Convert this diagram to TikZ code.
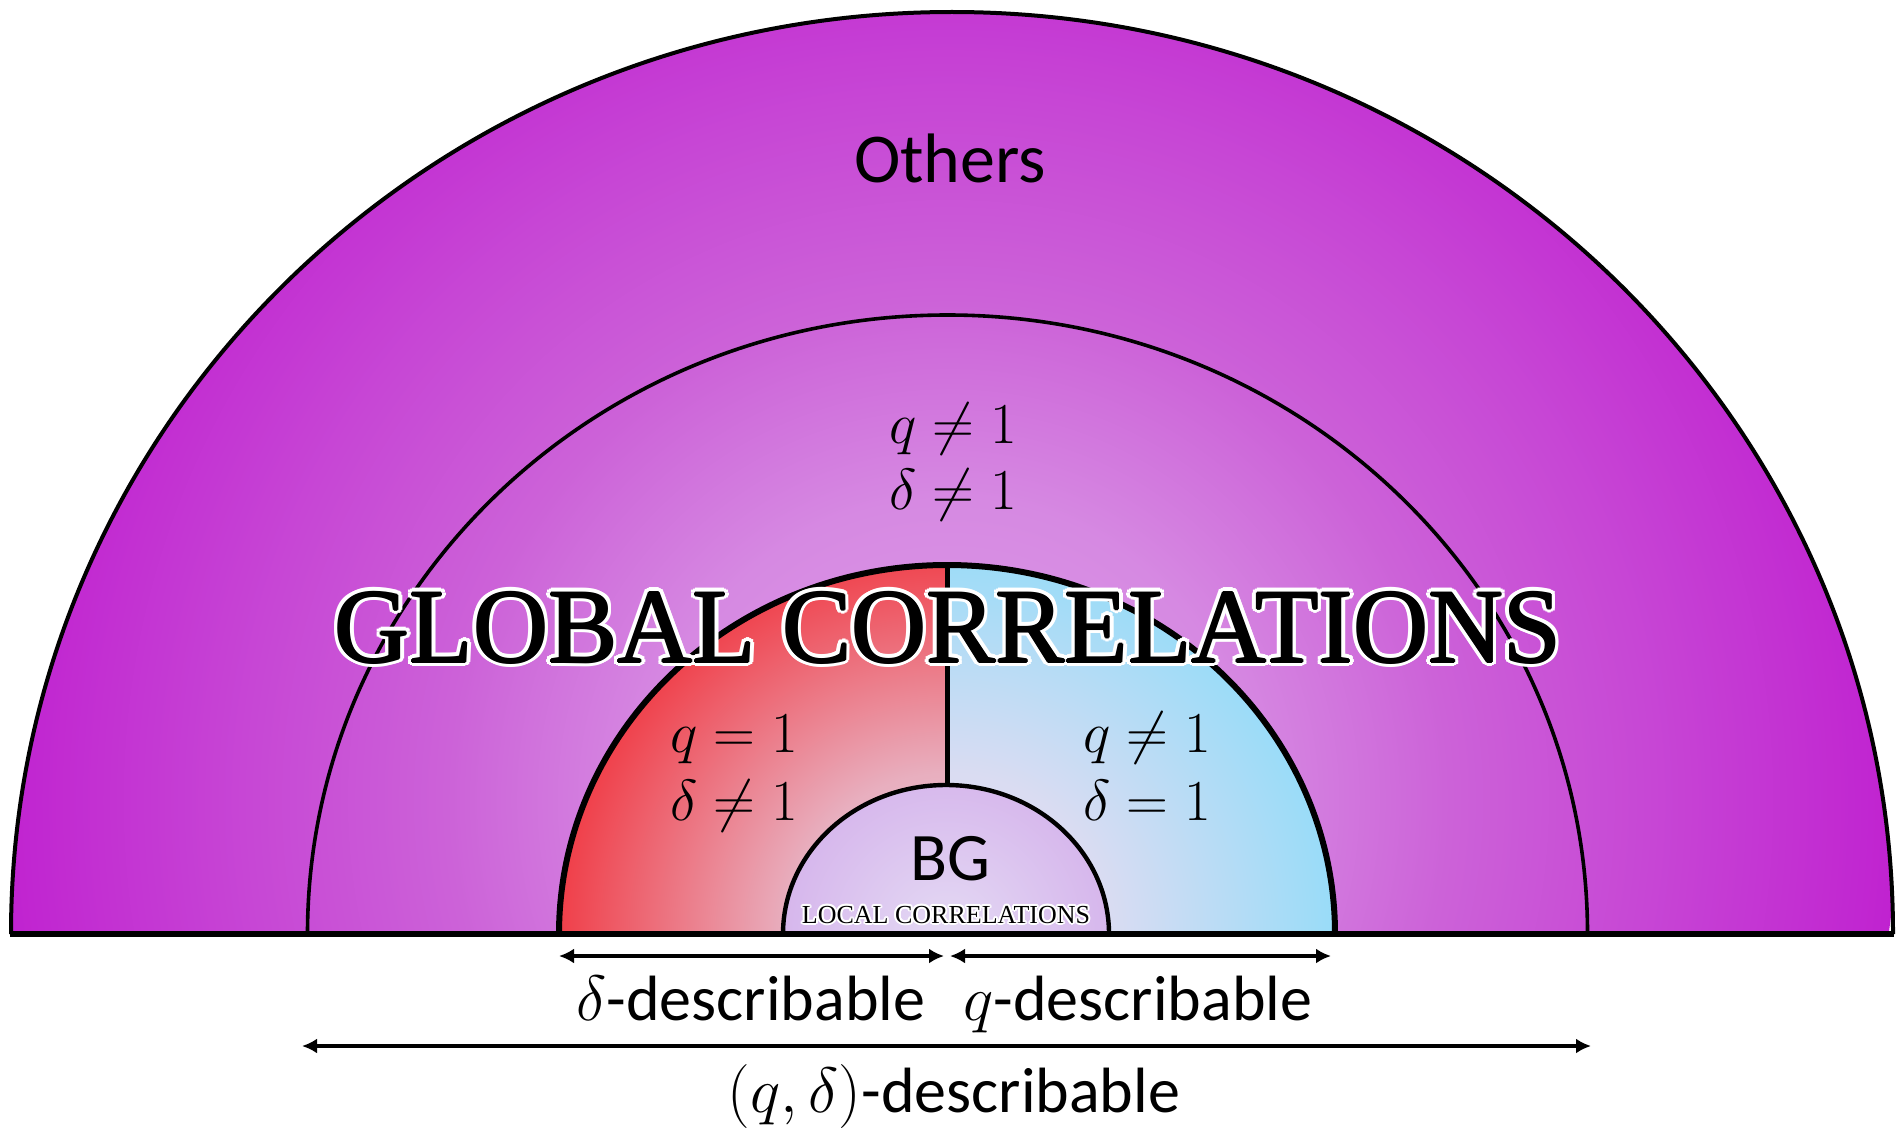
\RequirePackage{fix-cm}
\documentclass[tikz,border=0pt]{standalone}
\usepackage[no-math]{fontspec}
\setmainfont{Carlito}
\newfontfamily\tnr{Liberation Serif}
\usetikzlibrary{arrows.meta,calc}
\definecolor{pA}{HTML}{DDA0E8}
\definecolor{pB}{HTML}{D689E2}
\definecolor{pC}{HTML}{CC62D8}
\definecolor{pD}{HTML}{C747D5}
\definecolor{pE}{HTML}{C022D0}
\definecolor{rA}{HTML}{E8C4D4}
\definecolor{rB}{HTML}{E8AFBF}
\definecolor{rC}{HTML}{F03E48}
\definecolor{bA}{HTML}{E0DEF4}
\definecolor{bB}{HTML}{DADCF2}
\definecolor{bC}{HTML}{98DCF8}
\definecolor{gA}{HTML}{E4DAF4}
\definecolor{gB}{HTML}{D6B6EC}
\pgfdeclareradialshading{purpshade}{\pgfpoint{0bp}{0bp}}{color(0bp)=(pA); color(7.9bp)=(pB); color(13.2bp)=(pC); color(18.4bp)=(pD); color(25bp)=(pE); color(50bp)=(pE)}
\pgfdeclareradialshading{redshade}{\pgfpoint{0bp}{0bp}}{color(0bp)=(rA); color(10.3bp)=(rB); color(25bp)=(rC); color(50bp)=(rC)}
\pgfdeclareradialshading{blueshade}{\pgfpoint{0bp}{0bp}}{color(0bp)=(bA); color(10.3bp)=(bB); color(25bp)=(bC); color(50bp)=(bC)}
\pgfdeclareradialshading{bgshade}{\pgfpoint{0bp}{0bp}}{color(0bp)=(gA); color(25bp)=(gB); color(50bp)=(gB)}
\begin{document}
\begin{tikzpicture}[x=0.5pt,y=-0.5pt,
  lbl/.style={font=\fontsize{32}{38}\selectfont, anchor=base, inner sep=0pt},
  mathlbl/.style={font=\fontsize{29}{34}\selectfont, anchor=base, inner sep=0pt},
  bigtitle/.style={font=\tnr\fontsize{53}{60}\selectfont, anchor=base, inner sep=0pt, xscale=0.98},
  smalltitle/.style={font=\tnr\fontsize{13}{15}\selectfont, anchor=base, inner sep=0pt},
  arr/.style={line width=2pt, {Latex[length=7.5pt,width=7.5pt]}-{Latex[length=7.5pt,width=7.5pt]}},
]
\useasboundingbox (0,0) rectangle (1899,1129);
% background purple
\begin{scope}
  \clip (11,934) arc[start angle=180,end angle=360,x radius=941,y radius=922] -- cycle;
  \shade[shading=purpshade] (948,800) circle (950);
\end{scope}
% red half
\begin{scope}
  \clip (947,934) -- (559,934) arc[start angle=180,end angle=270,x radius=388,y radius=369] -- cycle;
  \shade[shading=redshade] (947,934) circle (390);
\end{scope}
% blue half
\begin{scope}
  \clip (947,934) -- (947,565) arc[start angle=270,end angle=360,x radius=388,y radius=369] -- cycle;
  \shade[shading=blueshade] (947,934) circle (390);
\end{scope}
% BG
\begin{scope}
  \clip (783,934) arc[start angle=180,end angle=360,x radius=163,y radius=149] -- cycle;
  \shade[shading=bgshade] (946,934) circle (165);
\end{scope}
% outlines
\draw[line width=2pt] (11,934) arc[start angle=180,end angle=360,x radius=941,y radius=922];
\draw[line width=1.8pt] (307.5,934) arc[start angle=180,end angle=360,x radius=640,y radius=619];
\draw[line width=3pt] (559,934) arc[start angle=180,end angle=360,x radius=388,y radius=369];
\draw[line width=2.2pt] (783,934) arc[start angle=180,end angle=360,x radius=163,y radius=149];
\draw[line width=2.5pt] (947,565) -- (947,786);
\draw[line width=3pt] (10,934) -- (1894,934);
% texts
\node[font=\fontsize{35}{40}\selectfont, anchor=base, inner sep=0pt] (others) at (950,182) {Others};
\node[mathlbl] (tq) at (953,443) {$q \neq 1$};
\node[mathlbl] (td) at (953,509) {$\delta \neq 1$};
\node[mathlbl] (rq) at (734,752) {$q = 1$};
\node[mathlbl] (rd) at (734,820) {$\delta \neq 1$};
\node[mathlbl] (bq) at (1147,752) {$q \neq 1$};
\node[mathlbl] (bd) at (1147,820) {$\delta = 1$};
\node[font=\fontsize{34}{40}\selectfont, anchor=base, inner sep=0pt] (bg) at (950,880) {BG};
% glowing titles
\foreach \a in {0,30,...,330} {
  \node[bigtitle, text=white] (gglow\a) at ($(948,662)+(\a:4.5)$) {GLOBAL CORRELATIONS};
  \node[smalltitle, text=white] (lglow\a) at ($(946,923)+(\a:2)$) {LOCAL CORRELATIONS};
}
\foreach \a in {0,90,180,270} {
  \node[bigtitle] (gbold\a) at ($(948,662)+(\a:1)$) {GLOBAL CORRELATIONS};
}
\node[bigtitle] (global) at (948,662) {GLOBAL CORRELATIONS};
\node[smalltitle] (local) at (946,923) {LOCAL CORRELATIONS};
% arrows
\coordinate (dL) at (559,956);
\coordinate (dR) at (944,956);
\coordinate (qL) at (950,956);
\coordinate (qR) at (1331,956);
\coordinate (aL) at (302,1046);
\coordinate (aR) at (1591,1046);
\draw[arr] (dL) -- (dR);
\draw[arr] (qL) -- (qR);
\draw[arr] (aL) -- (aR);
\node[lbl] (ddesc) at (751,1020) {$\delta$-describable};
\node[lbl] (qdesc) at (1138,1020) {$q$-describable};
\node[lbl] (qddesc) at (954,1112) {$(q,\delta)$-describable};
\end{tikzpicture}
\end{document}
